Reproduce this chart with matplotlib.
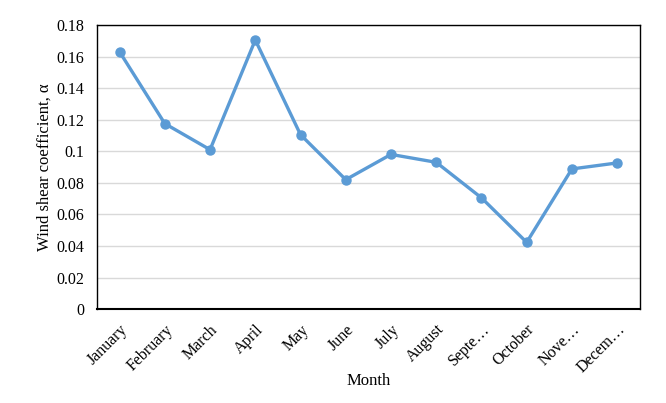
import matplotlib
matplotlib.use("Agg")
import matplotlib.pyplot as plt

months = ["January", "February", "March", "April", "May", "June", "July",
          "August", "Septe…", "October", "Nove…", "Decem…"]
alpha = [0.163, 0.1175, 0.101, 0.1705, 0.1105, 0.082, 0.098, 0.093,
         0.0705, 0.0423, 0.0888, 0.0926]
yticks = [0, 0.02, 0.04, 0.06, 0.08, 0.1, 0.12, 0.14, 0.16, 0.18]
ytick_labels = ["0", "0.02", "0.04", "0.06", "0.08", "0.1", "0.12", "0.14", "0.16", "0.18"]

plt.rcParams['font.family'] = ['Liberation Serif', 'DejaVu Serif']

fig = plt.figure(figsize=(6.66, 4.03), dpi=100)
ax = fig.add_axes([0.1456, 0.233, 0.815, 0.705])

x = list(range(len(months)))
ax.plot(x, alpha, color="#5B9BD5", linewidth=2.4, marker="o", markersize=6.5,
        zorder=3)

ax.set_xlim(-0.5, len(months) - 0.5)
ax.set_ylim(0, 0.18)
ax.set_yticks(yticks)
ax.set_yticklabels(ytick_labels, fontsize=11.5)
ax.set_xticks(x)
ax.set_xticklabels(months, rotation=45, ha="right", rotation_mode="anchor",
                   fontsize=11.5)
ax.tick_params(axis="y", length=0, pad=9)
ax.tick_params(axis="x", length=0, pad=9)
ax.yaxis.grid(True, color="#D9D9D9", linewidth=1.0)
ax.set_axisbelow(True)
for s in ax.spines.values():
    s.set_color("black")
    s.set_linewidth(1.0)
ax.spines['bottom'].set_linewidth(1.5)

ax.set_xlabel("Month", fontsize=12, labelpad=-2)
ax.set_ylabel("Wind shear coefficient, α", fontsize=12, labelpad=3)

fig.savefig("out.png", dpi=100)
